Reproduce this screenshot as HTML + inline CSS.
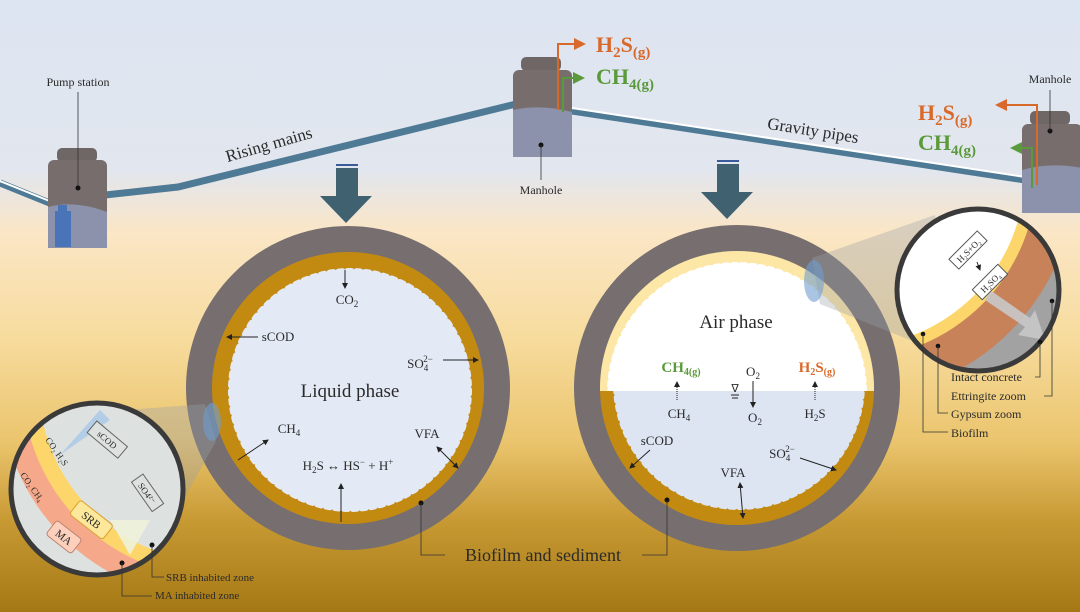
<!DOCTYPE html>
<html><head><meta charset="utf-8"><style>
html,body{margin:0;padding:0;}
body{width:1080px;height:612px;overflow:hidden;}
svg{display:block;}
text{font-family:"Liberation Serif",serif;fill:#2a2a2a;}
</style></head><body>
<svg width="1080" height="612" viewBox="0 0 1080 612" xmlns="http://www.w3.org/2000/svg">
<defs>
<linearGradient id="bg" x1="0" y1="0" x2="0" y2="1">
<stop offset="0" stop-color="#dde5f2"/>
<stop offset="0.28" stop-color="#e2e6ee"/>
<stop offset="0.38" stop-color="#fbe6c6"/>
<stop offset="0.55" stop-color="#f7dc9e"/>
<stop offset="0.72" stop-color="#ebc56e"/>
<stop offset="0.85" stop-color="#c89a34"/>
<stop offset="1" stop-color="#a47814"/>
</linearGradient>
<marker id="ar" markerWidth="6" markerHeight="6" refX="5" refY="3" orient="auto"><path d="M0,0L6,3L0,6z" fill="#222"/></marker>
<marker id="ars" markerWidth="6" markerHeight="6" refX="1" refY="3" orient="auto"><path d="M6,0L0,3L6,6z" fill="#222"/></marker>
<marker id="aro" markerWidth="6" markerHeight="6" refX="5" refY="3" orient="auto"><path d="M0,0L6,3L0,6z" fill="#d9692b"/></marker>
<marker id="arg" markerWidth="6" markerHeight="6" refX="5" refY="3" orient="auto"><path d="M0,0L6,3L0,6z" fill="#5a9a3a"/></marker>
<clipPath id="cl"><circle cx="97" cy="489" r="85"/></clipPath>
<clipPath id="cr"><circle cx="978" cy="290" r="80"/></clipPath>
<clipPath id="airtop"><rect x="560" y="200" width="360" height="191"/></clipPath>
<clipPath id="airbot"><rect x="560" y="391" width="360" height="200"/></clipPath>
</defs>
<rect width="1080" height="612" fill="url(#bg)"/>

<!-- pipes -->
<line x1="0" y1="183" x2="52" y2="204" stroke="#4e7a95" stroke-width="7"/>
<line x1="0" y1="181" x2="52" y2="202" stroke="#fff" stroke-width="2"/>
<polyline points="92,215 96,196 178,187 520,103" fill="none" stroke="#4e7a95" stroke-width="7"/>
<line x1="572" y1="111" x2="1025" y2="180" stroke="#4e7a95" stroke-width="7"/>
<line x1="572" y1="108" x2="1025" y2="177" stroke="#fff" stroke-width="2"/>

<!-- pump station -->
<rect x="57" y="148" width="40" height="14" rx="5" fill="#6f6666"/>
<rect x="48" y="160" width="59" height="88" rx="6" fill="#776d6d"/>
<path d="M48,207 Q75,200 107,212 L107,248 L48,248z" fill="#8d92ac"/>
<rect x="55" y="211" width="16" height="36" fill="#4a74b8"/>
<rect x="58" y="205" width="9" height="6" fill="#4a74b8"/>
<line x1="78" y1="92" x2="78" y2="188" stroke="#333" stroke-width="0.8"/>
<circle cx="78" cy="188" r="2.5" fill="#111"/>
<text x="78" y="86" font-size="12" text-anchor="middle">Pump station</text>
<text x="269" y="150" font-size="17" text-anchor="middle" transform="rotate(-16 269 145)">Rising mains</text>

<!-- manhole 1 -->
<rect x="521" y="57" width="40" height="14" rx="5" fill="#6f6666"/>
<rect x="513" y="70" width="59" height="87" rx="6" fill="#776d6d"/>
<path d="M513,110 Q540,104 572,112 L572,157 L513,157z" fill="#8d92ac"/>
<polyline points="558,110 558,44 584,44" fill="none" stroke="#d9692b" stroke-width="2" marker-end="url(#aro)"/>
<polyline points="563,112 563,78 583,78" fill="none" stroke="#5a9a3a" stroke-width="2" marker-end="url(#arg)"/>
<circle cx="541" cy="145" r="2.5" fill="#111"/>
<line x1="541" y1="145" x2="541" y2="180" stroke="#333" stroke-width="0.8"/>
<text x="541" y="194" font-size="12" text-anchor="middle">Manhole</text>
<text x="596" y="52" font-size="22" font-weight="bold" fill="#d9692b" style="fill:#d9692b">H<tspan font-size="15" dy="5">2</tspan><tspan dy="-5">S</tspan><tspan font-size="15" dy="5">(g)</tspan></text>
<text x="596" y="84" font-size="22" font-weight="bold" style="fill:#5a9a3a">CH<tspan font-size="15" dy="5">4(g)</tspan></text>
<text x="813" y="136" font-size="17" text-anchor="middle" transform="rotate(9 813 131)">Gravity pipes</text>

<!-- manhole 2 -->
<rect x="1030" y="111" width="40" height="14" rx="5" fill="#6f6666"/>
<rect x="1022" y="124" width="60" height="89" rx="6" fill="#776d6d"/>
<path d="M1022,170 Q1050,162 1082,168 L1082,213 L1022,213z" fill="#8d92ac"/>
<polyline points="1037,185 1037,105 997,105" fill="none" stroke="#d9692b" stroke-width="2" marker-end="url(#aro)"/>
<polyline points="1032,188 1032,148 1012,148" fill="none" stroke="#5a9a3a" stroke-width="2" marker-end="url(#arg)"/>
<circle cx="1050" cy="131" r="2.5" fill="#111"/>
<line x1="1050" y1="131" x2="1050" y2="90" stroke="#333" stroke-width="0.8"/>
<text x="1050" y="83" font-size="12" text-anchor="middle">Manhole</text>
<text x="918" y="120" font-size="22" font-weight="bold" style="fill:#d9692b">H<tspan font-size="15" dy="5">2</tspan><tspan dy="-5">S</tspan><tspan font-size="15" dy="5">(g)</tspan></text>
<text x="918" y="150" font-size="22" font-weight="bold" style="fill:#5a9a3a">CH<tspan font-size="15" dy="5">4(g)</tspan></text>

<!-- down arrows -->
<g fill="#3f6170">
<rect x="336" y="164" width="22" height="2" fill="#3a5a9a"/><rect x="336" y="168" width="22" height="30"/>
<path d="M320,196 L372,196 L346,223z"/>
<rect x="717" y="160" width="22" height="2" fill="#3a5a9a"/><rect x="717" y="164" width="22" height="30"/>
<path d="M701,192 L753,192 L727,219z"/>
</g>

<!-- liquid circle -->
<circle cx="348" cy="388" r="162" fill="#776f6f"/>
<circle cx="348" cy="388" r="136" fill="#c38a12"/>
<circle cx="350" cy="390" r="118" fill="#e4eaf5"/>
<circle cx="350" cy="390" r="119" fill="none" stroke="#e4eaf5" stroke-width="6" stroke-dasharray="4 5" stroke-linecap="round"/>
<text x="347" y="304" font-size="13" text-anchor="middle">CO<tspan font-size="9" dy="3">2</tspan></text>
<line x1="345" y1="270" x2="345" y2="288" stroke="#222" marker-end="url(#ar)"/>
<text x="278" y="341" font-size="13" text-anchor="middle">sCOD</text>
<line x1="258" y1="337" x2="227" y2="337" stroke="#222" marker-end="url(#ar)"/>
<text x="420" y="368" font-size="13" text-anchor="middle">SO<tspan font-size="9" dy="3">4</tspan><tspan font-size="9" dy="-9" dx="-5">2−</tspan></text>
<line x1="443" y1="360" x2="478" y2="360" stroke="#222" marker-end="url(#ar)"/>
<text x="350" y="397" font-size="19" text-anchor="middle">Liquid phase</text>
<text x="289" y="433" font-size="13" text-anchor="middle">CH<tspan font-size="9" dy="3">4</tspan></text>
<line x1="238" y1="460" x2="268" y2="440" stroke="#222" marker-end="url(#ar)"/>
<text x="427" y="438" font-size="13" text-anchor="middle">VFA</text>
<line x1="437" y1="447" x2="458" y2="468" stroke="#222" marker-end="url(#ar)" marker-start="url(#ars)"/>
<text x="348" y="470" font-size="13" text-anchor="middle">H<tspan font-size="9" dy="3">2</tspan><tspan dy="-3">S ↔ HS</tspan><tspan font-size="9" dy="-5">−</tspan><tspan dy="5"> + H</tspan><tspan font-size="9" dy="-5">+</tspan></text>
<line x1="341" y1="522" x2="341" y2="484" stroke="#222" marker-end="url(#ar)"/>
<circle cx="421" cy="503" r="2.5" fill="#111"/>
<polyline points="421,503 421,555 445,555" fill="none" stroke="#333" stroke-width="0.8"/>

<!-- air circle -->
<circle cx="737" cy="388" r="163" fill="#776f6f"/>
<g clip-path="url(#airtop)"><circle cx="737" cy="388" r="137" fill="#fde7a6"/><circle cx="737" cy="392" r="126" fill="#fff"/>
<circle cx="737" cy="392" r="127" fill="none" stroke="#fff" stroke-width="6" stroke-dasharray="4 5" stroke-linecap="round"/></g>
<g clip-path="url(#airbot)"><circle cx="737" cy="388" r="137" fill="#c38a12"/><circle cx="739" cy="384" r="122" fill="#dde5f3"/>
<circle cx="739" cy="384" r="123" fill="none" stroke="#dde5f3" stroke-width="6" stroke-dasharray="4 5" stroke-linecap="round"/></g>
<text x="736" y="328" font-size="19" text-anchor="middle">Air phase</text>
<text x="681" y="372" font-size="15" font-weight="bold" text-anchor="middle" style="fill:#5a9a3a">CH<tspan font-size="10" dy="3">4(g)</tspan></text>
<text x="753" y="376" font-size="13" text-anchor="middle">O<tspan font-size="9" dy="3">2</tspan></text>
<text x="817" y="372" font-size="15" font-weight="bold" text-anchor="middle" style="fill:#d9692b">H<tspan font-size="10" dy="3">2</tspan><tspan dy="-3">S</tspan><tspan font-size="10" dy="3">(g)</tspan></text>
<line x1="677" y1="400" x2="677" y2="382" stroke="#222" stroke-dasharray="1 1" marker-end="url(#ar)"/>
<line x1="815" y1="400" x2="815" y2="382" stroke="#222" stroke-dasharray="1 1" marker-end="url(#ar)"/>
<line x1="753" y1="381" x2="753" y2="407" stroke="#222" marker-end="url(#ar)"/>
<text x="735" y="392" font-size="11" text-anchor="middle">∇</text>
<line x1="731" y1="395" x2="739" y2="395" stroke="#222"/><line x1="732" y1="398" x2="738" y2="398" stroke="#222"/>
<text x="679" y="418" font-size="13" text-anchor="middle">CH<tspan font-size="9" dy="3">4</tspan></text>
<text x="755" y="422" font-size="13" text-anchor="middle">O<tspan font-size="9" dy="3">2</tspan></text>
<text x="815" y="418" font-size="13" text-anchor="middle">H<tspan font-size="9" dy="3">2</tspan><tspan dy="-3">S</tspan></text>
<text x="657" y="445" font-size="13" text-anchor="middle">sCOD</text>
<line x1="650" y1="450" x2="630" y2="468" stroke="#222" marker-end="url(#ar)"/>
<text x="782" y="458" font-size="13" text-anchor="middle">SO<tspan font-size="9" dy="3">4</tspan><tspan font-size="9" dy="-9" dx="-5">2−</tspan></text>
<line x1="800" y1="458" x2="836" y2="470" stroke="#222" marker-end="url(#ar)"/>
<text x="733" y="477" font-size="13" text-anchor="middle">VFA</text>
<line x1="740" y1="483" x2="743" y2="518" stroke="#222" marker-end="url(#ar)" marker-start="url(#ars)"/>
<circle cx="667" cy="500" r="2.5" fill="#111"/>
<polyline points="667,500 667,555 642,555" fill="none" stroke="#333" stroke-width="0.8"/>
<text x="543" y="561" font-size="18" text-anchor="middle">Biofilm and sediment</text>

<!-- zoom cones -->
<polygon points="205,404 216,441 150,560 60,415" fill="#9aa0a8" opacity="0.35"/>
<ellipse cx="212" cy="422" rx="9" ry="19" fill="#6f9fd0" opacity="0.6"/>
<polygon points="812,258 820,304 960,360 935,215" fill="#9aa0a8" opacity="0.35"/>
<ellipse cx="814" cy="281" rx="10" ry="21" fill="#6f9fd0" opacity="0.6"/>

<!-- left zoom circle -->
<g clip-path="url(#cl)">
<rect x="0" y="390" width="200" height="200" fill="#dde2e0"/>
<circle cx="215" cy="385" r="215" fill="#f5a98a"/>
<circle cx="215" cy="385" r="192" fill="#fcd66a"/>
<circle cx="215" cy="385" r="176" fill="#dde2e0"/>
<polygon points="60,455 100,410 110,420" fill="#a9c8e8" opacity="0.8"/>
<polygon points="110,520 130,555 150,520" fill="#eef3dc" opacity="0.9"/>
<g transform="rotate(40 107 440)"><rect x="87" y="432" width="40" height="15" fill="#dde2e0" stroke="#666"/><text x="107" y="443" font-size="9" text-anchor="middle">sCOD</text></g>
<g transform="rotate(55 147 492)"><rect x="130" y="485" width="36" height="14" fill="#dde2e0" stroke="#666"/><text x="148" y="496" font-size="9" text-anchor="middle">SO4²⁻</text></g>
<g transform="rotate(38 90 520)"><rect x="70" y="510" width="42" height="18" rx="3" fill="#fce79a" stroke="#d9a030"/><text x="91" y="523" font-size="11" text-anchor="middle">SRB</text></g>
<g transform="rotate(38 64 537)"><rect x="48" y="528" width="32" height="18" rx="3" fill="#fcd0bc" stroke="#c08070"/><text x="64" y="541" font-size="11" text-anchor="middle">MA</text></g>
<text x="45" y="440" font-size="9" transform="rotate(55 45 440)">CO₂ H₂S</text>
<text x="20" y="475" font-size="9" transform="rotate(55 20 475)">CO₂ CH₄</text>
</g>
<circle cx="97" cy="489" r="86" fill="none" stroke="#3a3a3a" stroke-width="5"/>
<circle cx="152" cy="545" r="2.5" fill="#111"/>
<circle cx="122" cy="563" r="2.5" fill="#111"/>
<polyline points="152,545 152,577 164,577" fill="none" stroke="#333" stroke-width="0.8"/>
<polyline points="122,563 122,596 152,596" fill="none" stroke="#333" stroke-width="0.8"/>
<text x="166" y="581" font-size="11">SRB inhabited zone</text>
<text x="155" y="599" font-size="11">MA inhabited zone</text>

<!-- right zoom circle -->
<g clip-path="url(#cr)">
<rect x="890" y="200" width="190" height="180" fill="#a2a2a2"/>
<circle cx="850" cy="172" r="226" fill="#c8825a"/>
<circle cx="850" cy="172" r="187" fill="#fcd66a"/>
<circle cx="850" cy="172" r="175" fill="#fff"/>
<polygon points="990,290 1030,318 1035,310 1045,340 1018,335 1025,327 985,300" fill="#c8c8c8" opacity="0.9"/>
<g transform="rotate(-45 968 250)"><rect x="948" y="243" width="40" height="14" fill="#fff" stroke="#555"/><text x="968" y="254" font-size="9" text-anchor="middle">H₂S+O₂</text></g>
<g transform="rotate(-45 990 282)"><rect x="972" y="275" width="36" height="14" fill="#fff" stroke="#555"/><text x="990" y="286" font-size="9" text-anchor="middle">H₂SO₄</text></g>
<line x1="977" y1="262" x2="980" y2="270" stroke="#222" marker-end="url(#ar)"/>
</g>
<circle cx="978" cy="290" r="81" fill="none" stroke="#3a3a3a" stroke-width="5"/>
<circle cx="923" cy="334" r="2.3" fill="#111"/>
<circle cx="938" cy="346" r="2.3" fill="#111"/>
<circle cx="1040" cy="342" r="2.3" fill="#111"/>
<circle cx="1052" cy="301" r="2.3" fill="#111"/>
<polyline points="923,334 923,432 948,432" fill="none" stroke="#333" stroke-width="0.8"/>
<polyline points="938,346 938,413 948,413" fill="none" stroke="#333" stroke-width="0.8"/>
<polyline points="1035,377 1040,377 1040,342" fill="none" stroke="#333" stroke-width="0.8"/>
<polyline points="1044,396 1052,396 1052,301" fill="none" stroke="#333" stroke-width="0.8"/>
<text x="951" y="381" font-size="12">Intact concrete</text>
<text x="951" y="400" font-size="12">Ettringite  zoom</text>
<text x="951" y="418" font-size="12">Gypsum zoom</text>
<text x="951" y="437" font-size="12">Biofilm</text>
</svg>
</body></html>
